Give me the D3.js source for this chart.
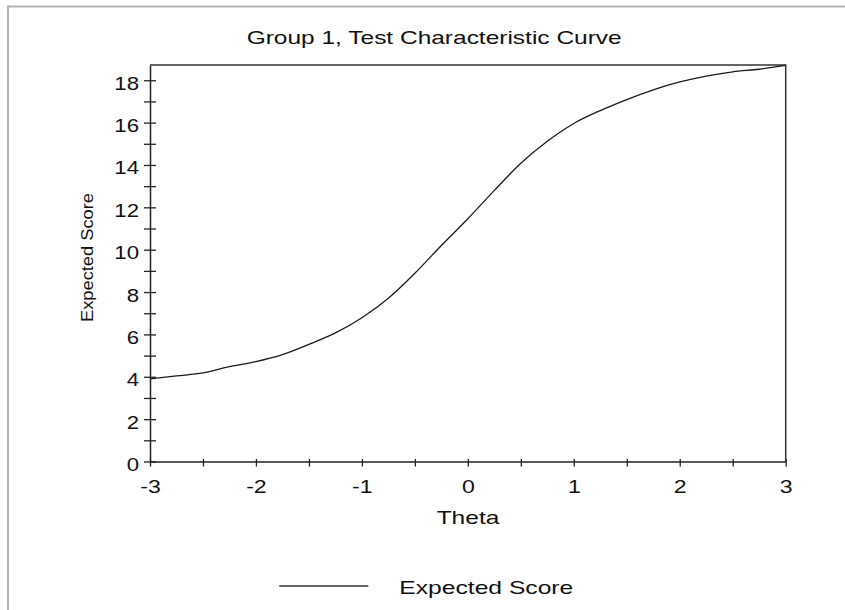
<!DOCTYPE html>
<html>
<head>
<meta charset="utf-8">
<script src="https://cdn.jsdelivr.net/npm/d3@7"></script>
<style>
  html, body { margin: 0; padding: 0; background: #fff; }
  svg { display: block; }
  text { font-family: "Liberation Sans", Arial, sans-serif; fill: #111; }
</style>
</head>
<body>
<svg id="chart" width="845" height="610"></svg>
<script>
// ---- Data ----
const title = "Group 1, Test Characteristic Curve";
const xLabel = "Theta";
const yLabel = "Expected Score";
const seriesName = "Expected Score";
const theta = [-3, -2.75, -2.5, -2.25, -2, -1.75, -1.5, -1.25, -1, -0.75, -0.5, -0.25, 0,
               0.25, 0.5, 0.75, 1, 1.25, 1.5, 1.75, 2, 2.25, 2.5, 2.75, 3];
const expectedScore = [3.90, 4.04, 4.18, 4.48, 4.72, 5.05, 5.53, 6.07, 6.79, 7.71, 8.89, 10.20, 11.46,
                       12.80, 14.08, 15.12, 15.96, 16.57, 17.09, 17.55, 17.92, 18.20, 18.40, 18.52, 18.70];
const xMajorTicks = [-3, -2, -1, 0, 1, 2, 3];
const xMinorTicks = [-2.5, -1.5, -0.5, 0.5, 1.5, 2.5];
const yMajorTicks = [0, 2, 4, 6, 8, 10, 12, 14, 16, 18];
const yMinorTicks = [1, 3, 5, 7, 9, 11, 13, 15, 17];
const yMax = 18.72;

// ---- Layout ----
const svg = d3.select("#chart");
const pLeft = 150, pRight = 785.7, pTop = 65, pBottom = 461.5;

const x = d3.scaleLinear().domain([-3, 3]).range([pLeft, pRight]);
const y = d3.scaleLinear().domain([0, yMax]).range([pBottom, pTop]);

function stretch(sel, factor) {
  sel.each(function() {
    const w = this.getComputedTextLength();
    d3.select(this).attr("textLength", w * factor).attr("lengthAdjust", "spacingAndGlyphs");
  });
}
function fitTo(sel, width) {
  sel.attr("textLength", width).attr("lengthAdjust", "spacingAndGlyphs");
}

// outer frame (left + top visible)
svg.append("path")
  .attr("d", "M8,610 V6.5 H845")
  .attr("fill", "none").attr("stroke", "#b4b4b4").attr("stroke-width", 2);

// title
fitTo(svg.append("text").attr("x", 434.2).attr("y", 44).attr("text-anchor", "middle")
  .attr("font-size", 19).text(title), 375);

// plot frame top & right
svg.append("path")
  .attr("d", `M${pLeft},${pTop} H${pRight} V${pBottom}`)
  .attr("fill", "none").attr("stroke", "#333").attr("stroke-width", 1.5);

// x axis
const xAxis = d3.axisBottom(x).tickValues(xMajorTicks.concat(xMinorTicks))
  .tickSize(0).tickFormat("");
const gx = svg.append("g").attr("transform", `translate(0,${pBottom})`).call(xAxis);
gx.select(".domain").attr("stroke", "#222").attr("stroke-width", 1.5);
gx.selectAll(".tick").append("line")
  .attr("y1", -2.5).attr("y2", 5).attr("stroke", "#222").attr("stroke-width", 1.3);
gx.selectAll(".tick")
  .filter(d => xMajorTicks.includes(d))
  .append("text")
  .attr("y", 31.5).attr("text-anchor", "middle").attr("font-size", 18.5)
  .attr("fill", "#111")
  .text(d => String(d));
stretch(gx.selectAll(".tick text"), 1.25);

// y axis
const yAxis = d3.axisLeft(y).tickValues(yMajorTicks.concat(yMinorTicks))
  .tickSize(0).tickFormat("");
const gy = svg.append("g").attr("transform", `translate(${pLeft},0)`).call(yAxis);
gy.select(".domain").attr("stroke", "#222").attr("stroke-width", 1.5);
gy.selectAll(".tick").append("line")
  .attr("x1", -6).attr("x2", 6).attr("stroke", "#222").attr("stroke-width", 1.3);
gy.selectAll(".tick")
  .filter(d => yMajorTicks.includes(d))
  .append("text")
  .attr("x", -11).attr("y", 9).attr("text-anchor", "end").attr("font-size", 18.5)
  .attr("fill", "#111")
  .text(d => String(d));
stretch(gy.selectAll(".tick text"), 1.2);

// axis labels
fitTo(svg.append("text").attr("x", 468).attr("y", 524).attr("text-anchor", "middle")
  .attr("font-size", 18.5).text(xLabel), 62.7);
fitTo(svg.append("text")
  .attr("transform", "translate(93,257.5) rotate(-90)")
  .attr("text-anchor", "middle").attr("font-size", 16).text(yLabel), 129);

// curve
const data = theta.map((t, i) => ({ t, v: expectedScore[i] }));
const line = d3.line().x(d => x(d.t)).y(d => y(d.v)).curve(d3.curveMonotoneX);
svg.append("path").datum(data)
  .attr("d", line)
  .attr("fill", "none").attr("stroke", "#1a1a1a").attr("stroke-width", 1.3);

// legend
svg.append("line").attr("x1", 279.3).attr("x2", 368.3).attr("y1", 586).attr("y2", 586)
  .attr("stroke", "#333").attr("stroke-width", 1.3);
fitTo(svg.append("text").attr("x", 399.3).attr("y", 594).attr("font-size", 19)
  .text(seriesName), 174);
</script>
</body>
</html>
